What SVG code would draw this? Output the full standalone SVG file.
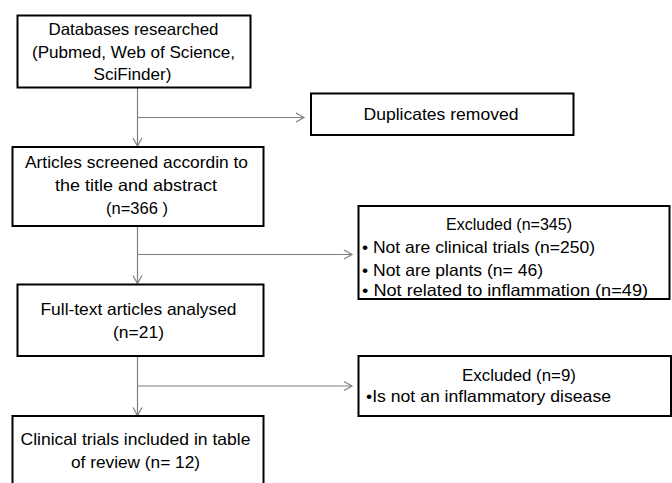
<svg xmlns="http://www.w3.org/2000/svg" width="672" height="483" viewBox="0 0 672 483">
<style>
.box{fill:#fff;stroke:#000;stroke-width:2}
.t{font-family:"Liberation Sans",Arial,sans-serif;font-size:16.5px;fill:#000}
.c{text-anchor:middle}
.ln{stroke:#7f7f7f;stroke-width:1.2;fill:none}
</style>
<defs>
<marker id="ah" markerUnits="userSpaceOnUse" markerWidth="12" markerHeight="12" refX="9" refY="6" orient="auto">
<path d="M1,1.5 L9,6 L1,10.5" fill="none" stroke="#7f7f7f" stroke-width="1.2"/>
</marker>
</defs>
<rect width="672" height="483" fill="#fff"/>
<g id="connectors">
<line class="ln" x1="137.5" y1="88" x2="137.5" y2="146" marker-end="url(#ah)"/>
<line class="ln" x1="137.5" y1="117.5" x2="304" y2="117.5" marker-end="url(#ah)"/>
<line class="ln" x1="137.5" y1="226" x2="137.5" y2="283.5" marker-end="url(#ah)"/>
<line class="ln" x1="137.5" y1="254.5" x2="352" y2="254.5" marker-end="url(#ah)"/>
<line class="ln" x1="137.5" y1="356" x2="137.5" y2="415.5" marker-end="url(#ah)"/>
<line class="ln" x1="137.5" y1="386" x2="352" y2="386" marker-end="url(#ah)"/>
</g>
<g id="databases">
<rect class="box" x="17.5" y="15.5" width="233" height="72"/>
<text class="t c" x="133.5" y="35" textLength="170" lengthAdjust="spacingAndGlyphs">Databases researched</text>
<text class="t c" x="133.5" y="57.5" textLength="203" lengthAdjust="spacingAndGlyphs">(Pubmed, Web of Science,</text>
<text class="t c" x="132.5" y="80" textLength="78" lengthAdjust="spacingAndGlyphs">SciFinder)</text>
</g>
<g id="duplicates">
<rect class="box" x="311" y="93.5" width="262.5" height="41.5"/>
<text class="t c" x="441" y="120" textLength="155" lengthAdjust="spacingAndGlyphs">Duplicates removed</text>
</g>
<g id="screened">
<rect class="box" x="12.5" y="147" width="251" height="79"/>
<text class="t c" x="136.5" y="168" textLength="223" lengthAdjust="spacingAndGlyphs">Articles screened accordin to</text>
<text class="t c" x="136" y="191" textLength="162" lengthAdjust="spacingAndGlyphs">the title and abstract</text>
<text class="t c" x="137" y="213.5" textLength="62" lengthAdjust="spacingAndGlyphs">(n=366 )</text>
</g>
<g id="excluded1">
<rect class="box" x="358.5" y="206" width="311" height="93"/>
<text class="t c" x="509" y="229.5" textLength="126" lengthAdjust="spacingAndGlyphs">Excluded (n=345)</text>
<text class="t" x="362" y="252.5" textLength="233" lengthAdjust="spacingAndGlyphs">• Not are clinical trials (n=250)</text>
<text class="t" x="362" y="275.5" textLength="181" lengthAdjust="spacingAndGlyphs">• Not are plants (n= 46)</text>
<text class="t" x="362" y="296" textLength="286" lengthAdjust="spacingAndGlyphs">• Not related to inflammation (n=49)</text>
</g>
<g id="fulltext">
<rect class="box" x="17.5" y="284.5" width="246" height="71.5"/>
<text class="t c" x="138.5" y="315" textLength="196" lengthAdjust="spacingAndGlyphs">Full-text articles analysed</text>
<text class="t c" x="138.5" y="337.5" textLength="51" lengthAdjust="spacingAndGlyphs">(n=21)</text>
</g>
<g id="excluded2">
<rect class="box" x="358.5" y="356" width="312.5" height="60"/>
<text class="t c" x="519" y="381" textLength="114" lengthAdjust="spacingAndGlyphs">Excluded (n=9)</text>
<text class="t" x="366" y="401.5" textLength="245" lengthAdjust="spacingAndGlyphs">•Is not an inflammatory disease</text>
</g>
<g id="included">
<rect class="box" x="12.5" y="416" width="251" height="80"/>
<text class="t c" x="135.5" y="445" textLength="230" lengthAdjust="spacingAndGlyphs">Clinical trials included in table</text>
<text class="t c" x="135.5" y="468" textLength="129" lengthAdjust="spacingAndGlyphs">of review (n= 12)</text>
</g>
</svg>
